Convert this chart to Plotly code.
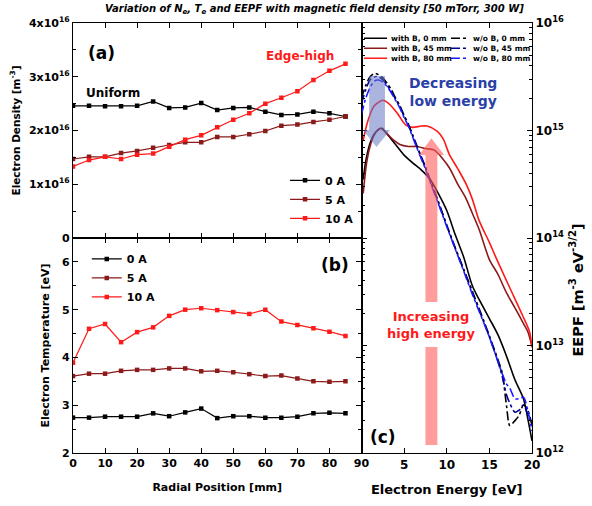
import plotly.graph_objects as go

# ---------------- data ----------------
radial_mm = [0, 5, 10, 15, 20, 25, 30, 35, 40, 45, 50, 55, 60, 65, 70, 75, 80, 85]

ne_0A = [2.46, 2.46, 2.45, 2.45, 2.46, 2.54, 2.42, 2.43, 2.51, 2.38, 2.42, 2.43, 2.35, 2.29, 2.30, 2.35, 2.32, 2.26]
ne_5A = [1.47, 1.51, 1.51, 1.58, 1.62, 1.68, 1.73, 1.78, 1.78, 1.88, 1.88, 1.93, 1.99, 2.09, 2.11, 2.16, 2.20, 2.26]
ne_10A = [1.33, 1.45, 1.51, 1.47, 1.55, 1.57, 1.70, 1.83, 1.91, 2.06, 2.20, 2.32, 2.50, 2.61, 2.73, 2.94, 3.11, 3.24]
ne_scale = 1e16

te_0A = [2.74, 2.74, 2.76, 2.76, 2.76, 2.83, 2.77, 2.85, 2.93, 2.73, 2.77, 2.77, 2.74, 2.74, 2.76, 2.83, 2.84, 2.83]
te_5A = [3.61, 3.66, 3.66, 3.72, 3.74, 3.74, 3.77, 3.77, 3.71, 3.72, 3.69, 3.65, 3.61, 3.62, 3.56, 3.50, 3.49, 3.50]
te_10A = [3.89, 4.60, 4.70, 4.32, 4.53, 4.63, 4.87, 5.00, 5.03, 4.99, 4.95, 4.91, 5.00, 4.75, 4.68, 4.61, 4.54, 4.45]

# EEPF curves (energy in eV, EEPF in m^-3 eV^-3/2)
E_withB0 = [0.2, 0.5, 1, 1.5, 2, 2.4, 3, 4, 5, 6, 7, 8, 9, 10, 11, 12, 13, 14, 15, 16, 17, 18, 19, 19.5, 20]
F_withB0 = [3.5e14, 5.2e14, 7.6e14, 9.3e14, 1.02e15, 1.05e15, 9.3e14, 7.4e14, 5.9e14, 5.0e14, 4.3e14, 3.55e14, 2.6e14,
            1.8e14, 1.07e14, 6.6e13, 3.6e13, 2.5e13, 1.78e13, 1.26e13, 8.0e12, 4.8e12, 3.2e12, 2.1e12, 1.3e12]

E_withB45 = [0.2, 0.6, 1, 1.5, 2.2, 3, 3.8, 4.5, 5.5, 6.5, 7.5, 8.5, 9.5, 10.3, 11.3, 12.25, 13, 13.8, 15, 16, 17, 18, 19, 19.5, 20]
F_withB45 = [2.6e14, 5.0e14, 7.1e14, 9.1e14, 1.05e15, 9.3e14, 8.1e14, 7.4e14, 7.1e14, 7.1e14, 6.8e14, 6.6e14, 5.5e14,
             4.5e14, 3.16e14, 2.34e14, 1.70e14, 1.2e14, 6.3e13, 4.6e13, 3.1e13, 2.24e13, 1.6e13, 1.35e13, 9.8e12]

E_withB80 = [0.2, 0.6, 1, 1.5, 2.5, 3.2, 4.2, 5.2, 6, 7, 7.7, 8.9, 9.6, 10.3, 11.3, 12.25, 13, 13.8, 15, 15.8, 17.35, 18.9, 19.7, 20]
F_withB80 = [8.1e14, 1.12e15, 1.41e15, 1.70e15, 1.91e15, 1.78e15, 1.45e15, 1.12e15, 1.07e15, 1.10e15, 1.10e15, 9.8e14,
             8.3e14, 6.0e14, 4.4e14, 3.2e14, 2.3e14, 1.45e14, 9.1e13, 6.5e13, 3.5e13, 1.9e13, 1.35e13, 9.6e12]

E_woB = [0, 0.5, 1, 1.5, 2, 2.5, 3, 3.5, 4, 4.5, 5, 5.5, 6, 6.5, 7, 7.5, 8, 9, 10, 11, 12, 13, 14, 15, 16, 16.5, 17, 17.4, 18, 18.5, 19, 19.5, 20]
F_woB0 = [2.0e15, 2.63e15, 3.16e15, 3.39e15, 3.31e15, 3.09e15, 2.75e15, 2.40e15, 2.0e15, 1.70e15, 1.38e15, 1.15e15,
          9.1e14, 7.2e14, 5.75e14, 4.6e14, 3.55e14, 2.2e14, 1.32e14, 8.1e13, 5.1e13, 3.2e13, 2.0e13, 1.23e13,
          7.4e12, 5.6e12, 2.8e12, 1.8e12, 2.0e12, 2.25e12, 2.8e12, 2.5e12, 1.8e12]
F_woB45 = [1.78e15, 2.4e15, 2.95e15, 3.16e15, 3.16e15, 2.95e15, 2.63e15, 2.30e15, 1.95e15, 1.66e15, 1.35e15, 1.12e15,
           8.9e14, 7.1e14, 5.6e14, 4.5e14, 3.5e14, 2.15e14, 1.30e14, 8.0e13, 5.0e13, 3.1e13, 1.95e13, 1.2e13,
           7.1e12, 5.2e12, 3.5e12, 2.9e12, 2.4e12, 2.5e12, 2.8e12, 2.3e12, 1.9e12]
F_woB80 = [1.41e15, 2.0e15, 2.5e15, 2.88e15, 2.95e15, 2.82e15, 2.57e15, 2.24e15, 1.91e15, 1.62e15, 1.32e15, 1.10e15,
           8.7e14, 6.9e14, 5.5e14, 4.4e14, 3.4e14, 2.1e14, 1.28e14, 7.9e13, 4.9e13, 3.0e13, 1.9e13, 1.2e13,
           7.1e12, 5.5e12, 4.4e12, 4.0e12, 3.2e12, 3.2e12, 3.3e12, 2.5e12, 1.6e12]

series_names = ["0 A", "5 A", "10 A"]
series_colors = ["#000000", "#8b1a1a", "#ff1a1a"]
eepf_names = ["with B, 0 mm", "with B, 45 mm", "with B, 80 mm", "w/o B, 0 mm", "w/o B, 45 mm", "w/o B, 80 mm"]
eepf_colors = ["#000000", "#8b1a1a", "#ff1a1a", "#000000", "#00008b", "#1a1aff"]

radial_ticks = [0, 10, 20, 30, 40, 50, 60, 70, 80, 90]
ne_ticks = [0, 1e16, 2e16, 3e16, 4e16]
ne_ticklabels = ["0", "1x10<sup>16</sup>", "2x10<sup>16</sup>", "3x10<sup>16</sup>", "4x10<sup>16</sup>"]
te_ticks = [2, 3, 4, 5, 6]
energy_ticks = [5, 10, 15, 20]
eepf_ticks = [1e12, 1e13, 1e14, 1e15, 1e16]
eepf_ticklabels = ["10<sup>12</sup>", "10<sup>13</sup>", "10<sup>14</sup>", "10<sup>15</sup>", "10<sup>16</sup>"]

FONT = "DejaVu Sans"

def b(s):
    return "<b>" + str(s) + "</b>"

fig = go.Figure()

for name, col, ys in zip(series_names, series_colors, [ne_0A, ne_5A, ne_10A]):
    fig.add_trace(go.Scatter(x=radial_mm, y=[v * ne_scale for v in ys], name=b(name), mode="lines+markers",
                             line=dict(color=col, width=1.2), marker=dict(symbol="square", size=4.5, color=col),
                             xaxis="x", yaxis="y", legend="legend"))
for name, col, ys in zip(series_names, series_colors, [te_0A, te_5A, te_10A]):
    fig.add_trace(go.Scatter(x=radial_mm, y=ys, name=b(name), mode="lines+markers",
                             line=dict(color=col, width=1.2), marker=dict(symbol="square", size=4.5, color=col),
                             xaxis="x2", yaxis="y2", legend="legend2"))

eepf_x = [E_withB0, E_withB45, E_withB80, E_woB, E_woB, E_woB]
eepf_y = [F_withB0, F_withB45, F_withB80, F_woB0, F_woB45, F_woB80]
for i, (name, col, xs, ys) in enumerate(zip(eepf_names, eepf_colors, eepf_x, eepf_y)):
    fig.add_trace(go.Scatter(x=xs, y=ys, name=name, mode="lines", showlegend=False,
                             line=dict(color=col, width=1.6, dash="solid" if i < 3 else "dashdot", shape="spline", smoothing=0.8),
                             xaxis="x3", yaxis="y3"))

axis_common = dict(showline=True, linecolor="black", linewidth=1.2, ticks="inside", tickcolor="black",
                   ticklen=5, tickwidth=1.2, mirror="ticks", showgrid=False, zeroline=False, automargin=False,
                   tickfont=dict(family=FONT, size=11, color="black"))
big_tick = dict(family=FONT, size=12, color="black")

W, H = 592, 506
ML, MT = 73, 23
PW, PH = 459, 430
xsplit = 288.5 / PW

fig.update_layout(
    width=W, height=H, plot_bgcolor="white", paper_bgcolor="white",
    margin=dict(l=ML, r=W - ML - PW, t=MT, b=H - MT - PH, autoexpand=False),
    xaxis=dict(domain=[0, xsplit], range=[0, 90], tickvals=radial_ticks, anchor="y", showticklabels=False, **axis_common),
    yaxis=dict(domain=[0.5, 1], range=[0, 4e16], anchor="x",
               tickvals=ne_ticks, ticktext=[b(t) for t in ne_ticklabels],
               minor=dict(ticks="inside", ticklen=3, dtick=0.5e16, tickcolor="black"),
               title=dict(text=b("Electron Density [m<sup>-3</sup>]"), font=dict(family=FONT, size=10.5, color="black"), standoff=6),
               **axis_common),
    xaxis2=dict(domain=[0, xsplit], range=[0, 90], tickvals=radial_ticks, ticktext=[b(t) for t in radial_ticks], anchor="y2",
                title=dict(text=b("Radial Position [mm]"), font=dict(family=FONT, size=11, color="black"), standoff=14),
                **axis_common),
    yaxis2=dict(domain=[0, 0.5], range=[2, 6.5], tickvals=te_ticks, ticktext=[b(t) for t in te_ticks], anchor="x2",
                minor=dict(ticks="inside", ticklen=3, dtick=0.5, tickcolor="black"),
                title=dict(text=b("Electron Temperature [eV]"), font=dict(family=FONT, size=11, color="black"), standoff=10),
                **axis_common),
    xaxis3=dict(domain=[xsplit, 1], range=[0, 20], tickvals=energy_ticks, ticktext=[b(t) for t in energy_ticks], anchor="y3",
                title=dict(text=b("Electron Energy [eV]"), font=dict(family=FONT, size=13, color="black"), standoff=14),
                **{**axis_common, "tickfont": big_tick}),
    yaxis3=dict(domain=[0, 1], type="log", range=[12, 16], tickvals=eepf_ticks, ticktext=[b(t) for t in eepf_ticklabels],
                anchor="x3", side="right",
                minor=dict(ticks="inside", ticklen=3, dtick="D1", tickcolor="black"),
                **{**axis_common, "tickfont": big_tick}),
    legend=dict(x=0.462, y=0.512, xanchor="left", yanchor="bottom", bgcolor="rgba(0,0,0,0)",
                font=dict(family=FONT, size=11, color="black"), itemwidth=30, tracegroupgap=0),
    legend2=dict(x=0.03, y=0.485, xanchor="left", yanchor="top", bgcolor="rgba(0,0,0,0)",
                 font=dict(family=FONT, size=11, color="black"), itemwidth=30, tracegroupgap=0),
    showlegend=True,
)

def ann(text, x, y, size, color="black", xref="paper", yref="paper", xanchor="center", **kw):
    fig.add_annotation(text=text, x=x, y=y, xref=xref, yref=yref, showarrow=False, xanchor=xanchor,
                       yanchor="middle", font=dict(family=FONT, size=size, color=color), **kw)

ann("<b><i>Variation of N<sub>e</sub>, T<sub>e</sub> and EEPF with magnetic field density [50 mTorr, 300 W]</i></b>",
    0.527, 1.031, 10)
ann(b("(a)"), 0.063, 0.930, 17)
ann(b("(b)"), 0.571, 0.437, 17)
ann(b("(c)"), 0.675, 0.037, 17)
ann(b("Uniform"), 0.087, 0.837, 12)
ann(b("Edge-high"), 0.4946, 0.923, 12, color="#ff1a1a")
ann(b("EEPF [m<sup>-3</sup> eV<sup>-3/2</sup>]"), 1.097, 0.379, 14.5, textangle=-90)

# arrows in panel (c)
fig.add_shape(type="path", xref="x3", yref="paper", layer="above", line=dict(width=0),
              fillcolor="rgba(100,118,196,0.55)",
              path="M 0.9,0.8767 L 2.75,0.8767 L 2.75,0.7512 L 3.35,0.7512 L 1.76,0.7116 L 0.18,0.7512 L 0.9,0.7512 Z")
fig.add_shape(type="path", xref="x3", yref="paper", layer="above", line=dict(width=0),
              fillcolor="rgba(255,90,90,0.6)",
              path="M 7.5,0.3512 L 7.5,0.6930 L 6.76,0.6930 L 8.2,0.7319 L 9.7,0.6930 L 8.9,0.6930 L 8.9,0.3512 Z")
fig.add_shape(type="rect", xref="x3", yref="paper", layer="above", line=dict(width=0),
              fillcolor="rgba(255,90,90,0.6)", x0=7.5, x1=8.9, y0=0.0186, y1=0.2465)

ann(b("Decreasing<br>low energy"), 0.828, 0.8395, 14, color="#2b3fa8")
ann(b("Increasing<br>high energy"), 0.78, 0.2977, 13, color="#ff1a1a")

# legend for panel (c)
rows = [0.9644, 0.9412, 0.918]
for i in range(6):
    col = i // 3
    r = i % 3
    x0, x1, xt = (0.3, 3.0, 3.2) if col == 0 else (10.5, 12.6, 12.8)
    fig.add_shape(type="line", xref="x3", yref="paper", x0=x0, x1=x1, y0=rows[r], y1=rows[r],
                  line=dict(color=eepf_colors[i], width=1.6, dash="solid" if col == 0 else "dashdot"))
    ann(b(eepf_names[i]), xt, rows[r], 7.5, xref="x3", xanchor="left")

# remove the default 8px page margin so the figure fills the window exactly
fig.write_html("out.html", config={"displayModeBar": False},
               post_script="document.body.style.margin='0px';")
